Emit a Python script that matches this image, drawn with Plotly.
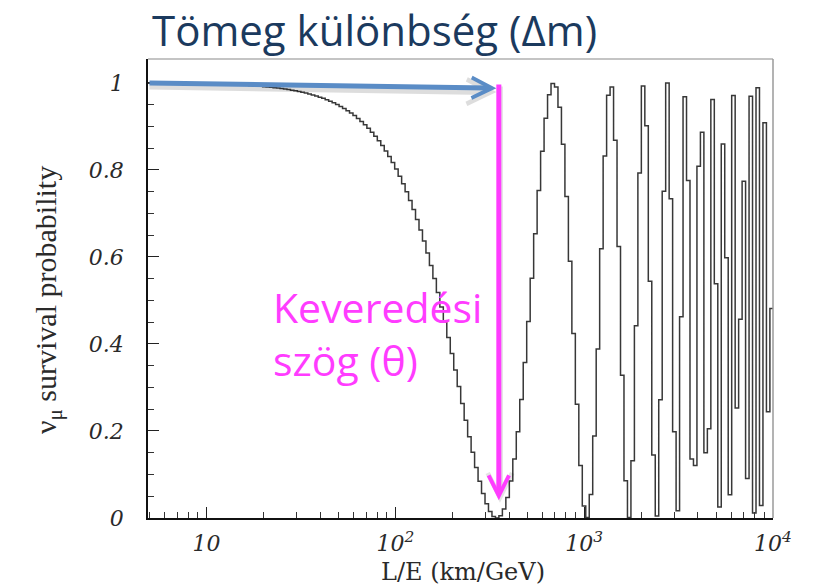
import numpy as np
import plotly.graph_objects as go

# ---- data ----
# histogram binning of L/E (log10 km/GeV): start and width of the equal log bins
bin_log_start = 0.69
bin_log_width = 0.0184

# nu_mu survival probability per bin
survival = [
    0.9995, 0.9994, 0.9994, 0.9993, 0.9993, 0.9992, 0.9991, 0.9991, 0.9990, 0.9989,
    0.9988, 0.9987, 0.9986, 0.9984, 0.9983, 0.9981, 0.9980, 0.9978, 0.9976, 0.9974,
    0.9972, 0.9969, 0.9967, 0.9964, 0.9960, 0.9957, 0.9953, 0.9949, 0.9944, 0.9939,
    0.9934, 0.9928, 0.9922, 0.9915, 0.9908, 0.9899, 0.9891, 0.9881, 0.9870, 0.9859,
    0.9847, 0.9833, 0.9819, 0.9803, 0.9785, 0.9767, 0.9746, 0.9724, 0.9700, 0.9673,
    0.9645, 0.9614, 0.9580, 0.9544, 0.9504, 0.9461, 0.9414, 0.9363, 0.9308, 0.9249,
    0.9185, 0.9116, 0.9040, 0.8958, 0.8869, 0.8774, 0.8670, 0.8559, 0.8438, 0.8308,
    0.8170, 0.8019, 0.7857, 0.7685, 0.7499, 0.7300, 0.7088, 0.6861, 0.6620, 0.6364,
    0.6092, 0.5806, 0.5503, 0.5184, 0.4851, 0.4507, 0.4148, 0.3779, 0.3401, 0.3020,
    0.2632, 0.2248, 0.1870, 0.1512, 0.1160, 0.0847, 0.0565, 0.0330, 0.0149, 0.0036,
    0.0000, 0.0054, 0.0208, 0.0471, 0.0853, 0.1356, 0.1983, 0.2726, 0.3577, 0.4515,
    0.5508, 0.6535, 0.7528, 0.8432, 0.9191, 0.9730, 0.9987, 0.9904, 0.9443, 0.8593,
    0.7392, 0.5899, 0.4243, 0.2617, 0.1207, 0.0275, 0.0009, 0.0543, 0.1887, 0.3884,
    0.6187, 0.8321, 0.9718, 0.9908, 0.8680, 0.6240, 0.3281, 0.0856, 0.0009, 0.1317,
    0.4419, 0.7931, 0.9928, 0.9013, 0.5442, 0.1450, 0.0048, 0.2717, 0.7508, 1.0000,
    0.7339, 0.1983, 0.0169, 0.4623, 0.9681, 0.7757, 0.1358, 0.1209, 0.8083, 0.8865,
    0.1498, 0.2052, 0.9617, 0.5385, 0.0253, 0.8596, 0.5981, 0.0535, 0.9709, 0.2526,
    0.4570, 0.7739, 0.0907, 0.9694, 0.0117, 0.9889, 0.0290, 0.9086, 0.2444, 0.4815,
]

x_tick_vals = [10, 100, 1000, 10000]
x_tick_text = ["10", "10<sup>2</sup>", "10<sup>3</sup>", "10<sup>4</sup>"]
y_tick_vals = [0, 0.2, 0.4, 0.6, 0.8, 1.0]
y_tick_text = ["0", "0.2", "0.4", "0.6", "0.8", "1"]

title_text = "Tömeg különbség (Δm)"
mixing_text = "Keveredési<br>szög (θ)"
x_title = "L/E (km/GeV)"
y_title = "ν<sub>μ</sub> survival probability"

# ---- figure ----
edges = 10 ** (bin_log_start + bin_log_width * np.arange(len(survival) + 1))
y_steps = survival + [survival[-1]]

fig = go.Figure()
fig.add_trace(go.Scatter(
    x=edges, y=y_steps, mode="lines",
    line=dict(shape="hv", color="#383838", width=1.5),
    hoverinfo="skip", showlegend=False,
))

x_minor = [m * d for d in (1, 10, 100, 1000) for m in range(2, 10)]
y_minor = [round(0.05 * k, 2) for k in range(0, 21)]

serif = "Liberation Serif, Times New Roman, serif"
wide_serif = "DejaVu Serif, serif"
sans = "Open Sans, Lato, sans-serif"
PLOT_H = 587 - 59 - 69   # plot-area height in px (for placing paper-referenced texts)
PLOT_W = 821 - 148 - 48

fig.update_xaxes(
    type="log", range=[0.69, 4.0], automargin=False,
    showline=True, linecolor="#111", linewidth=1.5, mirror=False,
    showgrid=False, zeroline=False,
    ticks="inside", ticklen=11, tickwidth=1.2, tickcolor="#222",
    tickvals=x_tick_vals, ticktext=x_tick_text,
    tickfont=dict(family=wide_serif, size=22, color="#2a2a2a", style="italic"),
    ticklabelstandoff=5,
    minor=dict(ticks="inside", ticklen=6, tickwidth=1, tickcolor="#333", tickvals=x_minor, showgrid=False),
)
fig.update_yaxes(
    range=[0, 1.055], automargin=False,
    showline=True, linecolor="#111", linewidth=1.5,
    showgrid=False, zeroline=False,
    ticks="inside", ticklen=11, tickwidth=1.2, tickcolor="#222",
    tickvals=y_tick_vals, ticktext=y_tick_text,
    tickfont=dict(family=wide_serif, size=22, color="#2a2a2a", style="italic"),
    ticklabelstandoff=18,
    minor=dict(ticks="inside", ticklen=6, tickwidth=1, tickcolor="#333", tickvals=y_minor, showgrid=False),
)

# light top / right frame
fig.add_shape(type="line", xref="paper", yref="paper", x0=0, x1=1, y0=1, y1=1,
              line=dict(color="#b0b0b0", width=1.5))
fig.add_shape(type="line", xref="paper", yref="paper", x0=1, x1=1, y0=0, y1=1,
              line=dict(color="#9a9a9a", width=1.5))

# arrows (log10 positions on the x axis)
blue = "#5A8CC6"
magenta = "#FF3CFF"
fig.add_annotation(x=2.535, y=0.979, ax=0.69, ay=0.992, xref="x", yref="y", axref="x", ayref="y",
                   text="", showarrow=True, arrowhead=5, arrowsize=0.8, arrowwidth=6,
                   arrowcolor="rgba(0,0,0,0.13)")
fig.add_annotation(x=2.535, y=0.988, ax=0.69, ay=1.0, xref="x", yref="y", axref="x", ayref="y",
                   text="", showarrow=True, arrowhead=5, arrowsize=0.8, arrowwidth=5,
                   arrowcolor=blue)
fig.add_annotation(x=2.554, y=0.035, ax=2.554, ay=0.995, xref="x", yref="y", axref="x", ayref="y",
                   text="", showarrow=True, arrowhead=5, arrowsize=0.8, arrowwidth=6,
                   arrowcolor="rgba(0,0,0,0.10)")
fig.add_annotation(x=2.548, y=0.041, ax=2.548, ay=1.0, xref="x", yref="y", axref="x", ayref="y",
                   text="", showarrow=True, arrowhead=5, arrowsize=0.8, arrowwidth=5,
                   arrowcolor=magenta)

# texts
fig.add_annotation(text=title_text, xref="paper", yref="paper", x=0.003, y=1.0 + 30 / PLOT_H,
                   xanchor="left", yanchor="middle", showarrow=False,
                   font=dict(family=sans, size=42, color="#1B3A5E"))
fig.add_annotation(text=mixing_text, xref="paper", yref="paper", x=0.196, y=(518 - 333) / PLOT_H,
                   xanchor="left", yanchor="middle", align="left", showarrow=False,
                   font=dict(family=sans, size=41, color=magenta))
fig.add_annotation(text=x_title, xref="paper", yref="paper", x=(463 - 148) / PLOT_W,
                   y=(518 - 588) / PLOT_H, xanchor="center", yanchor="bottom", showarrow=False,
                   font=dict(family=wide_serif, size=24, color="#2a2a2a"))
fig.add_annotation(text=y_title, xref="paper", yref="paper", x=(48 - 148) / PLOT_W,
                   y=(518 - 300) / PLOT_H, xanchor="center", yanchor="middle", showarrow=False,
                   textangle=-90, font=dict(family=serif, size=30, color="#2a2a2a"))

fig.update_layout(
    width=821, height=587,
    margin=dict(l=148, r=48, t=59, b=69),
    paper_bgcolor="white", plot_bgcolor="white",
    showlegend=False,
)

fig.write_html("out.html")
